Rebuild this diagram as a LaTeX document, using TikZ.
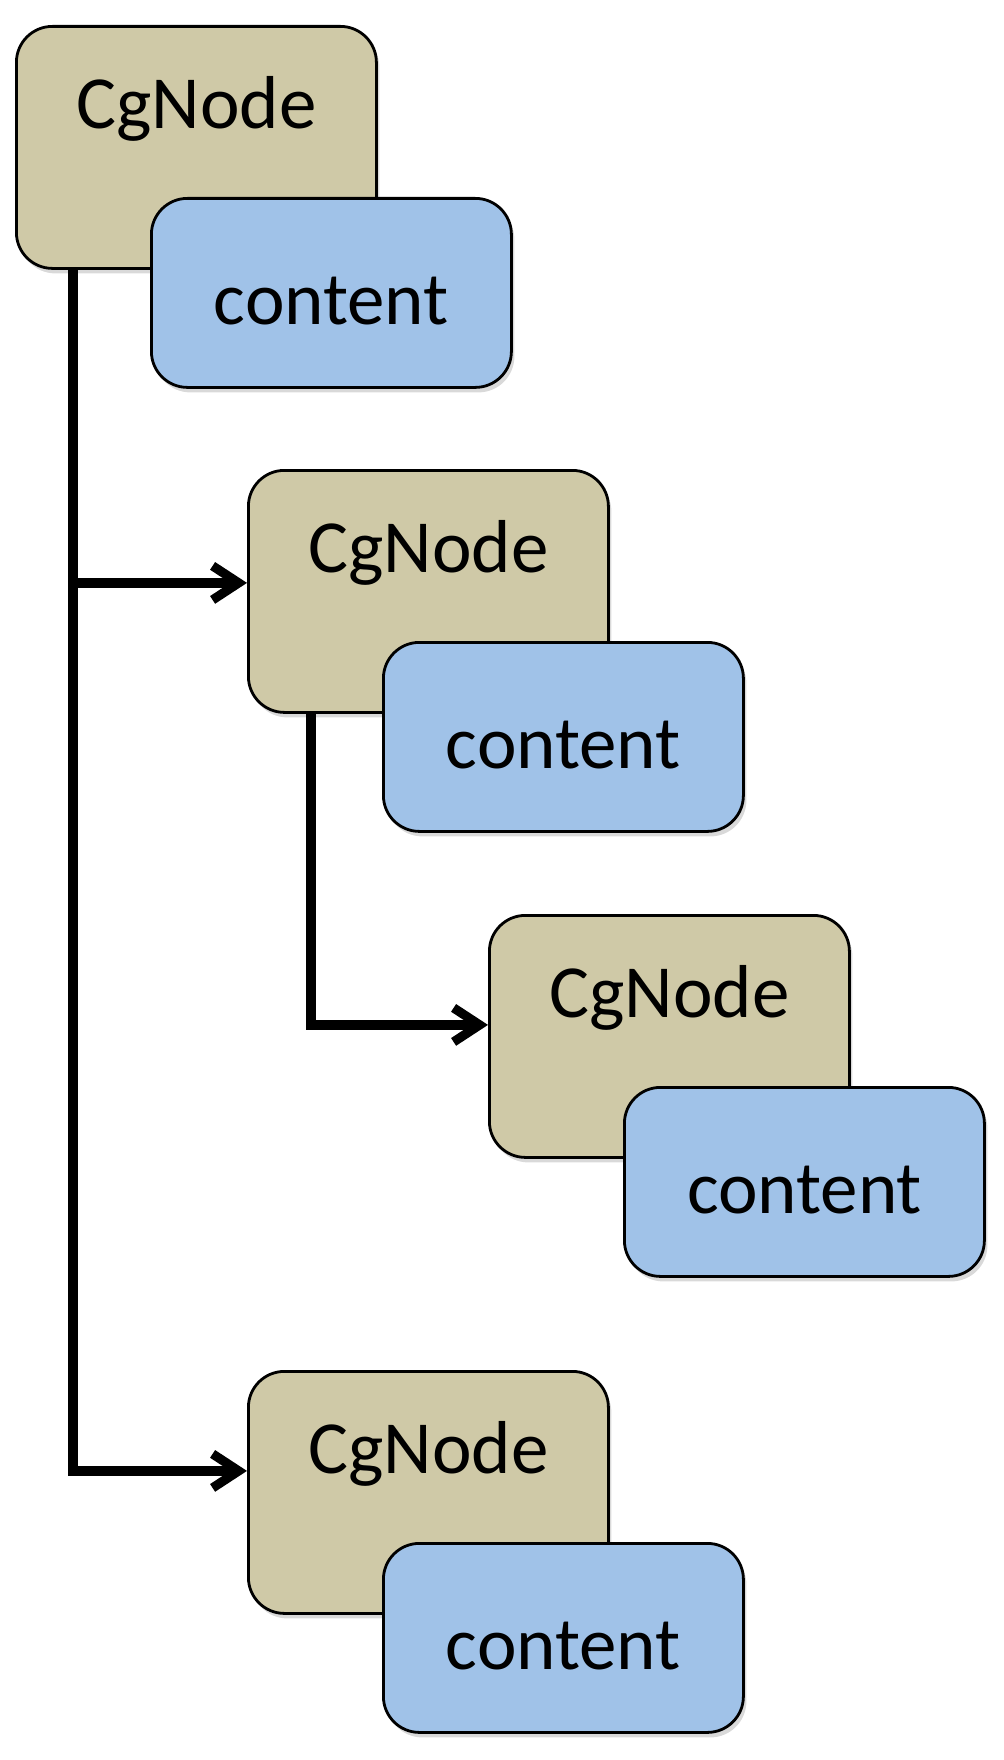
\documentclass[tikz,border=0pt]{standalone}
\usepackage{fontspec}
\setmainfont{Carlito}
\usetikzlibrary{positioning,shadows,arrows.meta}
\definecolor{cgtan}{RGB}{207,201,167}
\definecolor{cgblue}{RGB}{160,194,232}
\begin{document}
\begin{tikzpicture}[x=0.5pt, y=-0.5pt,
	box/.style={draw, line width=1.4pt, rounded corners=18pt, minimum width=180pt, inner xsep=0pt, inner ysep=0pt,
		font=\fontsize{37.5}{40}\selectfont, drop shadow={shadow xshift=1.5pt, shadow yshift=-2.5pt, opacity=0.3}},
	cgnode/.style={box, fill=cgtan, text height=51pt, text depth=70pt},
	content/.style={box, fill=cgblue, text height=63pt, text depth=31.5pt},
	link/.style={line width=4.6pt, -{Straight Barb[length=13pt, width=17pt]}}]
	\useasboundingbox (0,0) rectangle (1004,1760);
	
	\foreach \n/\x/\y in {1/15/25, 2/247/469, 3/488/914, 4/247/1370}
	{
		\node [cgnode, anchor=north west] (n\n) at (\x,\y) {CgNode};
		\node [content, anchor=north west] (c\n) at ([shift={(135,172)}]n\n.north west) {content};
	}
	
	%call edges:
	\coordinate (t1) at ([xshift=29pt]n1.south west);
	\coordinate (t2) at ([xshift=32pt]n2.south west);
	\coordinate (a2) at ([yshift=4.25pt]n2.west);
	\coordinate (a3) at ([yshift=5.75pt]n3.west);
	\coordinate (a4) at ([yshift=10.75pt]n4.west);
	
	\draw [link] (t1) |- (a4);
	\draw [link] (t1 |- a2) -- (a2);
	\draw [link] (t2) |- (a3);

\end{tikzpicture}
\end{document}
